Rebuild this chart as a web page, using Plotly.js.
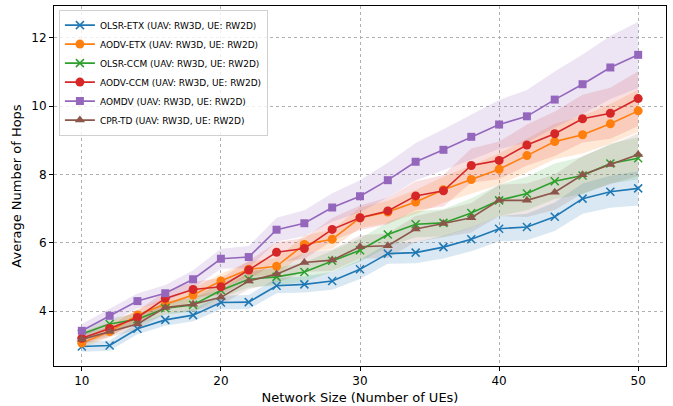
<!DOCTYPE html>
<html>
<head>
<meta charset="utf-8">
<script src="https://cdn.plot.ly/plotly-3.0.1.min.js"></script>
<style>html,body{margin:0;padding:0;background:#fff;}#chart{width:673px;height:406px;}</style>
</head>
<body>
<div id="chart"></div>
<script>
const networkSize = [10,12,14,16,18,20,22,24,26,28,30,32,34,36,38,40,42,44,46,48,50];

const olsrEtx = [2.96,2.99,3.48,3.74,3.88,4.25,4.26,4.74,4.78,4.88,5.22,5.68,5.71,5.87,6.10,6.41,6.46,6.76,7.29,7.49,7.59];
const aodvEtx = [3.06,3.40,3.88,4.20,4.47,4.88,5.22,5.31,5.95,6.10,6.73,6.90,7.19,7.55,7.85,8.15,8.55,8.96,9.16,9.48,9.86];
const olsrCcm = [3.33,3.62,3.76,4.08,4.18,4.61,4.93,5.00,5.14,5.47,5.78,6.24,6.54,6.58,6.87,7.24,7.44,7.80,7.97,8.32,8.47];
const aodvCcm = [3.20,3.49,3.81,4.37,4.63,4.71,5.20,5.72,5.83,6.39,6.73,6.93,7.37,7.52,8.26,8.41,8.86,9.19,9.63,9.79,10.22];
const aomdv   = [3.42,3.86,4.29,4.52,4.93,5.53,5.58,6.38,6.57,7.03,7.36,7.83,8.37,8.72,9.10,9.46,9.70,10.19,10.64,11.13,11.50];
const cprTd   = [3.17,3.40,3.62,4.10,4.20,4.40,4.88,5.08,5.42,5.49,5.88,5.91,6.40,6.56,6.73,7.24,7.24,7.48,7.99,8.29,8.58];

const olsrEtxStd = [0.15,0.15,0.16,0.17,0.18,0.20,0.21,0.22,0.24,0.26,0.28,0.30,0.31,0.33,0.35,0.37,0.39,0.42,0.44,0.47,0.50];
const aodvEtxStd = [0.15,0.16,0.17,0.18,0.19,0.21,0.22,0.24,0.26,0.28,0.30,0.33,0.35,0.38,0.42,0.46,0.49,0.52,0.55,0.58,0.62];
const olsrCcmStd = [0.15,0.16,0.17,0.18,0.20,0.22,0.24,0.26,0.28,0.31,0.34,0.36,0.38,0.40,0.43,0.46,0.49,0.52,0.55,0.58,0.62];
const aodvCcmStd = [0.18,0.19,0.20,0.21,0.23,0.25,0.27,0.29,0.31,0.33,0.36,0.39,0.42,0.46,0.50,0.55,0.60,0.65,0.70,0.75,0.80];
const aomdvStd   = [0.20,0.21,0.22,0.24,0.26,0.29,0.32,0.35,0.38,0.42,0.47,0.51,0.55,0.60,0.66,0.72,0.77,0.82,0.87,0.92,0.97];
const cprTdStd   = [0.15,0.16,0.17,0.18,0.20,0.22,0.24,0.26,0.28,0.31,0.34,0.36,0.38,0.40,0.43,0.46,0.49,0.52,0.55,0.58,0.62];

const seriesNames = [
  'OLSR-ETX (UAV: RW3D, UE: RW2D)',
  'AODV-ETX (UAV: RW3D, UE: RW2D)',
  'OLSR-CCM (UAV: RW3D, UE: RW2D)',
  'AODV-CCM (UAV: RW3D, UE: RW2D)',
  'AOMDV (UAV: RW3D, UE: RW2D)',
  'CPR-TD (UAV: RW3D, UE: RW2D)'
];

const series = [
  {name: seriesNames[0], y: olsrEtx, s: olsrEtxStd, color: '#1f77b4', fill: 'rgba(31,119,180,0.17)', symbol: 'x-thin-open', size: 8},
  {name: seriesNames[1], y: aodvEtx, s: aodvEtxStd, color: '#ff7f0e', fill: 'rgba(255,127,14,0.17)', symbol: 'circle', size: 9},
  {name: seriesNames[2], y: olsrCcm, s: olsrCcmStd, color: '#2ca02c', fill: 'rgba(44,160,44,0.15)', symbol: 'x-thin-open', size: 8},
  {name: seriesNames[3], y: aodvCcm, s: aodvCcmStd, color: '#d62728', fill: 'rgba(214,39,40,0.15)', symbol: 'circle', size: 9},
  {name: seriesNames[4], y: aomdv, s: aomdvStd, color: '#9467bd', fill: 'rgba(148,103,189,0.17)', symbol: 'square', size: 8},
  {name: seriesNames[5], y: cprTd, s: cprTdStd, color: '#8c564b', fill: 'rgba(140,86,75,0.15)', symbol: 'triangle-up', size: 9}
];

const traces = [];
series.forEach(sr => {
  const upper = sr.y.map((v, i) => v + sr.s[i]);
  const lower = sr.y.map((v, i) => v - sr.s[i]);
  traces.push({x: networkSize, y: upper, type: 'scatter', mode: 'lines', line: {width: 0, color: sr.fill}, showlegend: false, hoverinfo: 'skip'});
  traces.push({x: networkSize, y: lower, type: 'scatter', mode: 'lines', line: {width: 0, color: sr.fill}, fill: 'tonexty', fillcolor: sr.fill, showlegend: false, hoverinfo: 'skip'});
});
series.forEach(sr => {
  traces.push({
    x: networkSize, y: sr.y, name: sr.name, type: 'scatter', mode: 'lines+markers',
    line: {color: sr.color, width: 1.6},
    marker: {symbol: sr.symbol, size: sr.size, color: sr.color, line: {color: sr.color, width: sr.symbol === 'x-thin-open' ? 1.5 : 0}}
  });
});

const layout = {
  width: 673, height: 406,
  margin: {l: 54, r: 7, t: 6, b: 40},
  paper_bgcolor: '#fff', plot_bgcolor: '#fff',
  font: {family: 'DejaVu Sans, sans-serif', size: 12, color: '#000'},
  showlegend: true,
  legend: {x: 0.008, y: 0.99, xanchor: 'left', yanchor: 'top', traceorder: 'normal', bgcolor: 'rgba(255,255,255,0.8)', bordercolor: '#d0d0d0', borderwidth: 1, font: {size: 9}, tracegroupgap: 0, itemwidth: 30},
  xaxis: {
    range: [8, 52], tickvals: [10,20,30,40,50], ticks: 'outside', ticklen: 4, tickcolor: '#000',
    showline: true, linecolor: '#000', linewidth: 1, mirror: true, zeroline: false,
    showgrid: true, gridcolor: '#b0b0b0', griddash: 'dot', gridwidth: 1,
    title: {text: 'Network Size (Number of UEs)', font: {size: 13}, standoff: 5}
  },
  yaxis: {
    range: [2.39, 12.93], tickvals: [4,6,8,10,12], ticks: 'outside', ticklen: 4, tickcolor: '#000',
    showline: true, linecolor: '#000', linewidth: 1, mirror: true, zeroline: false,
    showgrid: true, gridcolor: '#b0b0b0', griddash: 'dot', gridwidth: 1,
    title: {text: 'Average Number of Hops', font: {size: 13}, standoff: 6}
  }
};

Plotly.newPlot('chart', traces, layout, {displayModeBar: false, staticPlot: true});
</script>
</body>
</html>
